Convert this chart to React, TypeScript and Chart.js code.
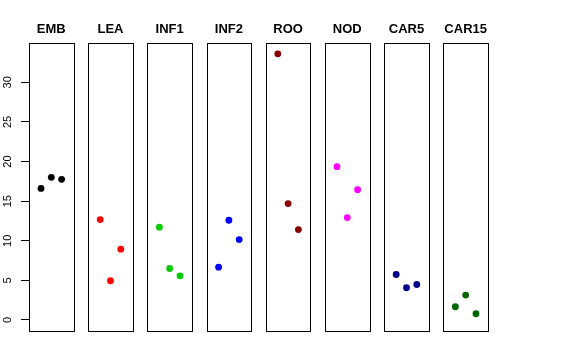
import React, { useEffect, useRef } from "react";
import { Chart, registerables } from "chart.js";

Chart.register(...registerables);

const panels = ["EMB", "LEA", "INF1", "INF2", "ROO", "NOD", "CAR5", "CAR15"];
const colors = ["#000000", "#FF0000", "#00CD00", "#0000FF", "#8B0000", "#FF00FF", "#00008B", "#006400"];
const EMB = [16.6, 18.0, 17.76];
const LEA = [12.67, 4.95, 8.94];
const INF1 = [11.71, 6.5, 5.58];
const INF2 = [6.67, 12.59, 10.15];
const ROO = [33.6, 14.69, 11.41];
const NOD = [19.35, 12.92, 16.45];
const CAR5 = [5.74, 4.07, 4.48];
const CAR15 = [1.67, 3.15, 0.79];
const seriesValues = [EMB, LEA, INF1, INF2, ROO, NOD, CAR5, CAR15];
const yTicks = [0, 5, 10, 15, 20, 25, 30];

const OFFSETS = [-0.174, 0, 0.174];
const HALF = 0.377;

const panelPlugin = {
  id: "panels",
  beforeDatasetsDraw(chart: any) {
    const { ctx, chartArea, scales } = chart;
    const xs = scales.x;
    ctx.save();
    ctx.strokeStyle = "#000";
    ctx.lineWidth = 1;
    panels.forEach((name, i) => {
      const l = Math.round(xs.getPixelForValue(i - HALF)) + 0.5;
      const r = Math.round(xs.getPixelForValue(i + HALF)) + 0.5;
      const t = Math.round(chartArea.top) + 0.5;
      const b = Math.round(chartArea.bottom) + 0.5;
      ctx.strokeRect(l, t, r - l, b - t);
      ctx.fillStyle = "#000";
      ctx.font = "bold 13px 'Liberation Sans', Arial, sans-serif";
      ctx.textAlign = "center";
      ctx.textBaseline = "middle";
      ctx.fillText(name, xs.getPixelForValue(i), 29);
    });
    ctx.restore();
  },
};

export default function App() {
  const ref = useRef<HTMLCanvasElement | null>(null);
  useEffect(() => {
    if (!ref.current) return;
    const datasets = seriesValues.map((vals, i) => ({
      label: panels[i],
      data: vals.map((v, j) => ({ x: i + OFFSETS[j], y: v })),
      backgroundColor: colors[i],
      borderColor: colors[i],
      pointRadius: 3.4,
      pointBorderWidth: 0,
      pointHoverRadius: 3.4,
    }));
    const chart = new Chart(ref.current, {
      type: "scatter",
      data: { datasets },
      options: {
        animation: false,
        responsive: false,
        events: [],
        layout: { padding: { left: 0, top: 43, right: 88, bottom: 29 } },
        plugins: { legend: { display: false }, tooltip: { enabled: false } },
        scales: {
          x: { type: "linear", display: false, min: -HALF, max: 7 + HALF },
          y: {
            type: "linear",
            min: -1.39,
            max: 34.96,
            afterFit: (s: any) => {
              s.width = 29;
            },
            afterBuildTicks: (s: any) => {
              s.ticks = yTicks.map((v) => ({ value: v }));
            },
            border: { display: false },
            grid: { drawOnChartArea: false, drawTicks: true, tickLength: 8, tickColor: "#000", lineWidth: 1 },
            ticks: {
              color: "#000",
              font: { family: "'Liberation Sans', Arial, sans-serif", size: 11 },
              minRotation: 90,
              maxRotation: 90,
              crossAlign: "center",
              padding: 6.5,
            },
          },
        },
      },
      plugins: [panelPlugin],
    });
    return () => chart.destroy();
  }, []);
  return (
    <div style={{ position: "fixed", left: 0, top: 0, width: 576, height: 360, background: "#fff" }}>
      <canvas ref={ref} width={576} height={360} />
    </div>
  );
}
